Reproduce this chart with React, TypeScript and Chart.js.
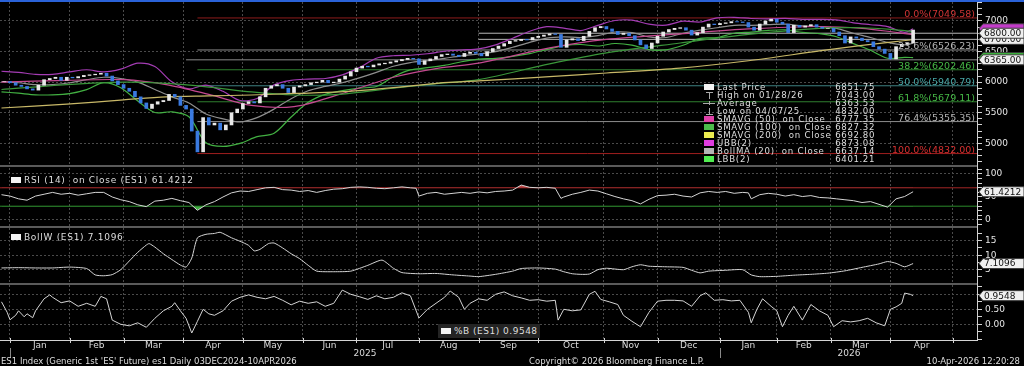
import React, { useEffect, useRef } from 'react';
import { Chart, registerables } from 'chart.js';

Chart.register(...registerables);

// ---------------- axis / calendar (trading-day index, 0 = first session of Jan 2025) ----------------
const X_MIN = -3.52;
const X_MAX = 340.85;
const monthStarts = [0, 21, 40, 61, 82, 103, 122, 144, 165, 186, 209, 228, 250, 270, 289, 310, 332];
const monthLabels = ['Jan', 'Feb', 'Mar', 'Apr', 'May', 'Jun', 'Jul', 'Aug', 'Sep', 'Oct', 'Nov', 'Dec', 'Jan', 'Feb', 'Mar', 'Apr'];
const yearStarts = [0, 250];
const yearLabels = ['2025', '2026'];

// ---------------- price (close every 2 sessions) ----------------
const priceFirstDay = -2;
const priceDayStep = 2;
const closes = [
  6010, 5990, 5950, 5930, 5890, 5870, 5950, 6040, 6060, 6080,
  6030, 6080, 6070, 6090, 6110, 6120, 6130, 6145, 6100, 6020,
  5960, 5900, 5850, 5760, 5660, 5570, 5640, 5680, 5700, 5800,
  5760, 5620, 5560, 5200, 4860, 5420, 5300, 5330, 5220, 5300,
  5500, 5560, 5650, 5680, 5660, 5760, 5900, 5940, 5960, 5900,
  5830, 5920, 5940, 5960, 5990, 6000, 6030, 5990, 6000, 6050,
  6100, 6170, 6230, 6260, 6250, 6280, 6300, 6310, 6330, 6350,
  6370, 6390, 6380, 6290, 6350, 6380, 6420, 6450, 6460, 6440,
  6420, 6470, 6490, 6470, 6430, 6500, 6550, 6590, 6630, 6670,
  6680, 6700, 6690, 6730, 6750, 6770, 6790, 6780, 6570, 6690,
  6710, 6680, 6750, 6830, 6890, 6910, 6870, 6830, 6780, 6800,
  6760, 6690, 6610, 6550, 6640, 6750, 6820, 6860, 6880, 6890,
  6850, 6770, 6810, 6900, 6950, 6940, 6960, 6970, 6990, 6985,
  6975, 6900, 6850, 6950, 7000, 7030, 6980, 6950, 6810, 6930,
  6900, 6920, 6940, 6900, 6880, 6880, 6820, 6760, 6640, 6740,
  6720, 6680, 6660, 6580, 6540, 6470, 6380, 6580, 6620, 6640,
  6852,
];

// ---------------- Bollinger (20, 2) ----------------
const bbDays = [-3, 3, 9, 15, 21, 27, 33, 39, 45, 51, 57, 63, 69, 75, 81, 87, 93, 99, 105, 111, 117, 123, 129, 135, 141, 147, 153, 159, 165, 171, 177, 183, 189, 195, 201, 207, 213, 219, 225, 231, 237, 243, 249, 255, 261, 267, 273, 279, 285, 291, 297, 303, 309, 315, 318];
const bollMA = [6010, 5990, 5960, 5960, 5990, 6040, 6080, 6060, 6000, 5880, 5760, 5660, 5480, 5400, 5350, 5420, 5560, 5730, 5860, 5930, 5990, 6070, 6160, 6260, 6320, 6350, 6390, 6430, 6460, 6500, 6570, 6650, 6720, 6740, 6730, 6760, 6820, 6810, 6740, 6730, 6800, 6850, 6890, 6930, 6930, 6940, 6950, 6920, 6910, 6880, 6800, 6730, 6650, 6610, 6637];
const ubb = [6178, 6161, 6127, 6127, 6167, 6203, 6168, 6212, 6310, 6256, 6005, 5890, 5951, 5850, 5700, 5732, 5955, 6030, 6050, 6060, 6119, 6237, 6391, 6432, 6440, 6464, 6505, 6526, 6544, 6610, 6718, 6833, 6908, 6885, 6844, 6929, 7008, 7014, 6949, 6932, 6997, 6984, 7052, 7060, 7041, 7034, 7044, 7027, 7027, 7018, 6970, 6939, 6909, 6815, 6873];
const lbb = [5842, 5819, 5793, 5793, 5813, 5877, 5992, 5908, 5690, 5504, 5515, 5434, 5009, 4950, 5000, 5108, 5165, 5430, 5670, 5800, 5861, 5903, 5929, 6088, 6200, 6236, 6275, 6334, 6376, 6390, 6422, 6467, 6532, 6595, 6616, 6591, 6632, 6606, 6531, 6528, 6603, 6716, 6728, 6800, 6819, 6846, 6856, 6813, 6793, 6742, 6630, 6521, 6391, 6405, 6401];

// ---------------- moving averages ----------------
const smaDays = [-3, 20, 40, 55, 70, 85, 100, 116, 135, 151, 165, 190, 210, 236, 260, 285, 300, 311, 318];
const sma50 = [6000, 6030, 6040, 5960, 5800, 5620, 5600, 5800, 6080, 6230, 6310, 6560, 6700, 6790, 6870, 6910, 6880, 6820, 6777];
const sma100 = [5880, 5960, 6000, 5980, 5920, 5840, 5790, 5800, 5900, 5980, 6040, 6300, 6480, 6640, 6780, 6880, 6890, 6860, 6827];
const sma200 = [5577, 5640, 5710, 5760, 5775, 5790, 5815, 5840, 5910, 5985, 6020, 6090, 6150, 6230, 6350, 6510, 6600, 6660, 6693];

// ---------------- Fibonacci retracement & drawn levels ----------------
const fibStartDay = 66;
const fibPercents = ['0.0%', '23.6%', '38.2%', '50.0%', '61.8%', '76.4%', '100.0%'];
const fibLevels = [7049.58, 6526.23, 6202.46, 5940.79, 5679.11, 5355.35, 4832.0];
const fibLineColors = ['#8e1c1c', '#8c8c8c', '#2f7f2f', '#3d8080', '#2f7f2f', '#8c8c8c', '#a01e1e'];
const fibTextColors = ['#d03434', '#b4b4b4', '#46b846', '#47a6a6', '#46b846', '#b4b4b4', '#d83030'];
const levelStartDays = [165, 165, 62];
const levelValues = [6800, 6700, 6365];

// ---------------- right-hand value tags ----------------
const mainTagValues = [6873.08, 6401.21, 6365, 6700, 6800];
const mainTagTexts = ['', '', '6365.00', '6700.00', '6800.00'];
const mainTagFills = ['#c23cc8', '#3cc23c', '#f0f0f0', '#f0f0f0', '#f0f0f0'];

// ---------------- legend ----------------
const legendNames = ['Last Price', 'High on 01/28/26', 'Average', 'Low on 04/07/25', 'SMAVG (50)  on Close', 'SMAVG (100)  on Close', 'SMAVG (200)  on Close', 'UBB(2)', 'BollMA (20)  on Close', 'LBB(2)'];
const legendValues = ['6851.75', '7043.00', '6363.53', '4832.00', '6777.35', '6827.32', '6692.80', '6873.08', '6637.14', '6401.21'];
const legendIcons = ['box', 'high', 'avg', 'low', 'box', 'box', 'box', 'box', 'box', 'box'];
const legendColors = ['#f4f4f4', '#aaaaaa', '#aaaaaa', '#aaaaaa', '#e040a8', '#4cbc4c', '#ecec50', '#e03ce0', '#b4b4b4', '#50ec50'];

// ---------------- RSI (14) ----------------
const rsiDays = [-3, 0, 3, 6, 9, 12, 15, 18, 21, 24, 27, 30, 33, 36, 39, 42, 45, 48, 51, 54, 57, 60, 63, 66, 69, 72, 75, 78, 81, 84, 87, 90, 93, 96, 99, 102, 105, 108, 111, 114, 117, 120, 123, 126, 129, 132, 135, 138, 141, 143, 144, 147, 150, 153, 156, 159, 162, 165, 168, 171, 174, 177, 180, 183, 186, 189, 192, 194, 195, 198, 201, 204, 207, 210, 213, 216, 219, 222, 225, 228, 231, 234, 237, 240, 243, 246, 249, 252, 255, 258, 260, 261, 264, 267, 270, 273, 276, 279, 282, 285, 288, 291, 294, 297, 300, 303, 306, 309, 312, 315, 318];
const rsiValues = [55, 52, 46, 43, 52, 56, 60, 56, 58, 54, 57, 60, 60, 50, 44, 40, 33, 29, 41, 43, 47, 42, 38, 21, 33, 40, 50, 59, 63, 62, 66, 70, 71, 66, 65, 62, 64, 60, 64, 67, 68, 71, 72, 71, 69, 68, 70, 72, 70, 69, 52, 58, 60, 56, 58, 60, 58, 61, 59, 62, 63, 65, 76, 71, 70, 71, 69, 47, 50, 56, 60, 65, 63, 57, 51, 46, 42, 35, 45, 53, 54, 56, 52, 50, 59, 62, 60, 62, 58, 60, 59, 46, 55, 58, 56, 52, 55, 51, 53, 49, 48, 46, 44, 42, 38, 40, 34, 28, 46, 51, 61.4212];
const rsiUpper = 70;
const rsiLower = 30;

// ---------------- Bollinger band width ----------------
const bwDays = [-3, 3, 9, 15, 21, 27, 30, 33, 36, 39, 42, 45, 48, 49, 51, 54, 57, 60, 62, 64, 66, 69, 72, 74, 78, 81, 84, 86, 88, 91, 93, 96, 99, 102, 105, 108, 114, 120, 126, 131, 135, 138, 144, 150, 156, 162, 165, 171, 177, 180, 186, 192, 195, 198, 201, 204, 207, 210, 216, 219, 222, 225, 231, 237, 240, 243, 246, 252, 258, 261, 264, 270, 276, 282, 288, 294, 300, 306, 309, 312, 315, 318];
const bwValues = [5.6, 5.7, 5.6, 5.6, 5.9, 5.4, 3.2, 2.9, 3.3, 5.0, 8.0, 11.0, 13.5, 14.0, 12.8, 10.5, 8.5, 6.6, 5.9, 9.0, 16.0, 17.2, 17.5, 17.9, 16.0, 14.8, 13.4, 11.5, 12.0, 14.0, 14.2, 12.5, 10.5, 8.8, 6.5, 4.5, 4.3, 4.5, 6.5, 8.3, 5.5, 4.0, 3.6, 3.7, 3.2, 2.8, 2.6, 3.4, 4.5, 5.4, 5.6, 5.2, 4.3, 3.6, 3.4, 3.5, 5.0, 5.5, 5.0, 6.0, 6.7, 6.2, 6.0, 5.8, 4.8, 3.9, 4.5, 4.8, 5.0, 3.2, 2.6, 2.7, 3.1, 3.4, 3.8, 4.6, 5.8, 7.0, 7.8, 7.2, 6.0, 7.1096];

// ---------------- %B ----------------
const pbDays = [-3, -1, 0, 2, 3, 5, 6, 8, 9, 12, 14, 15, 18, 21, 24, 27, 30, 32, 34, 36, 39, 42, 45, 48, 51, 54, 57, 58, 60, 62, 64, 66, 68, 70, 72, 75, 78, 81, 84, 87, 90, 93, 96, 99, 102, 105, 108, 111, 114, 117, 120, 123, 126, 129, 132, 135, 138, 141, 144, 147, 150, 153, 155, 158, 160, 162, 165, 168, 171, 174, 177, 180, 183, 186, 189, 192, 193, 195, 198, 201, 204, 206, 208, 211, 214, 216, 219, 222, 225, 228, 231, 234, 237, 240, 243, 245, 248, 251, 254, 257, 260, 261, 263, 265, 268, 270, 272, 274, 276, 279, 282, 285, 288, 290, 293, 296, 299, 302, 305, 308, 310, 312, 314, 315, 317, 318];
const pbValues = [0.75, 0.4, 0.15, 0.3, 0.45, 0.25, 0.35, 0.22, 0.45, 0.85, 0.98, 0.9, 0.72, 0.78, 0.6, 0.7, 0.6, 0.93, 0.85, 0.14, 0.0, -0.05, 0.05, -0.1, 0.2, 0.45, 0.6, 0.72, 0.45, 0.2, -0.29, 0.1, 0.5, 0.35, 0.3, 0.45, 0.77, 0.9, 0.98, 0.9, 0.85, 0.93, 0.8, 0.65, 0.77, 0.7, 0.75, 0.6, 0.7, 1.14, 1.0, 0.92, 0.83, 0.95, 0.85, 0.9, 1.05, 0.95, 0.21, 0.5, 0.7, 0.9, 1.11, 0.9, 0.5, 0.7, 0.85, 0.8, 1.0, 1.08, 0.95, 0.88, 0.8, 0.82, 0.77, 0.8, 0.14, 0.5, 0.45, 0.48, 1.0, 1.1, 0.83, 0.75, 0.66, 0.3, 0.1, -0.08, 0.4, 0.77, 0.8, 0.8, 0.78, 0.6, 0.95, 1.05, 0.8, 0.82, 0.78, 0.8, 0.4, 0.05, 0.5, 0.85, 0.6, 0.45, -0.08, 0.3, 0.6, 0.14, 0.66, 0.45, 0.3, -0.08, 0.12, 0.08, 0.12, 0.2, 0.05, -0.05, 0.5, 0.58, 0.7, 1.04, 1.0, 0.9548];

// ---------------- footer ----------------
const footerLeft = "ES1 Index (Generic 1st 'ES' Future) es1 Daily 03DEC2024-10APR2026";
const footerMid = 'Copyright\u00A9 2026 Bloomberg Finance L.P.';
const footerRight = '10-Apr-2026 12:20:28';

// =====================================================================
const FONT = '"DejaVu Sans", sans-serif';
const near = (a: number, b: number) => Math.abs(a - b) < 1e-6;

function makeXScale(axisHeight: number) {
  return {
    type: 'linear',
    min: X_MIN,
    max: X_MAX,
    offset: false,
    afterBuildTicks: (s: any) => {
      s.ticks = monthStarts.map((v) => ({ value: v }));
    },
    afterFit: (s: any) => {
      s.height = axisHeight;
      s.paddingLeft = 0;
      s.paddingRight = 0;
      s.paddingTop = 0;
      s.paddingBottom = 0;
    },
    ticks: { display: false },
    grid: { color: '#4a4a4a', drawTicks: false, lineWidth: 1, offset: false },
    border: { display: false, dash: [2, 2] },
  };
}

function makeYScale(min: number, max: number, step: number, labelled: number[], gridAt: number[], fmt: (v: number) => string) {
  const tickVals: number[] = [];
  for (let v = Math.ceil(min / step) * step; v <= max + 1e-9; v += step) tickVals.push(Math.round(v * 10000) / 10000);
  return {
    type: 'linear',
    position: 'right',
    min,
    max,
    afterBuildTicks: (s: any) => {
      s.ticks = tickVals.map((v) => ({ value: v }));
    },
    afterFit: (s: any) => {
      s.width = 46;
      s.paddingTop = 0;
      s.paddingBottom = 0;
      s.paddingLeft = 0;
      s.paddingRight = 0;
    },
    ticks: {
      color: '#e6e6e6',
      padding: 3,
      autoSkip: false,
      maxRotation: 0,
      font: { family: FONT, size: 9 },
      callback: (v: any) => (labelled.some((l) => near(l, v)) ? fmt(v) : ''),
    },
    grid: {
      color: (c: any) => (c.tick && gridAt.some((g) => near(g, c.tick.value)) ? '#4a4a4a' : 'rgba(0,0,0,0)'),
      tickColor: '#d4d4d4',
      tickLength: 4,
      lineWidth: 1,
      tickBorderDash: [],
    },
    border: { display: false, dash: [2, 2] },
  };
}

function baseOptions(y: any, axisHeight: number) {
  return {
    responsive: false,
    maintainAspectRatio: false,
    animation: false,
    events: [],
    layout: { padding: 0, autoPadding: false },
    plugins: { legend: { display: false }, tooltip: { enabled: false } },
    scales: { x: makeXScale(axisHeight), y },
  };
}

function series(days: number[], vals: number[]) {
  return days.map((d, i) => ({ x: d, y: vals[i] }));
}

function lineDs(days: number[], vals: number[], color: string, width: number, tension: number, order: number, extra: any = {}) {
  return {
    type: 'line',
    data: series(days, vals),
    borderColor: color,
    borderWidth: width,
    pointRadius: 0,
    tension,
    fill: false,
    order,
    ...extra,
  };
}

function hLine(from: number, value: number, color: string, order: number) {
  return {
    type: 'line',
    data: [
      { x: from, y: value },
      { x: X_MAX, y: value },
    ],
    borderColor: color,
    borderWidth: 1,
    pointRadius: 0,
    fill: false,
    order,
  };
}

function drawTag(ctx: CanvasRenderingContext2D, x0: number, y: number, text: string, fill: string) {
  const h = 5;
  ctx.beginPath();
  ctx.moveTo(x0, y);
  ctx.lineTo(x0 + 4, y - h);
  ctx.lineTo(1024, y - h);
  ctx.lineTo(1024, y + h);
  ctx.lineTo(x0 + 4, y + h);
  ctx.closePath();
  ctx.fillStyle = fill;
  ctx.fill();
  ctx.strokeStyle = '#3a3a3a';
  ctx.lineWidth = 1;
  ctx.stroke();
  if (text) {
    ctx.fillStyle = '#101010';
    ctx.font = '9px ' + FONT;
    ctx.textAlign = 'left';
    ctx.textBaseline = 'middle';
    ctx.fillText(text, x0 + 5, y + 0.5);
  }
}

function tagPlugin(values: number[], texts: string[], fills: string[]) {
  return {
    id: 'tags',
    afterDraw(chart: any) {
      const { ctx, chartArea, scales } = chart;
      ctx.save();
      values.forEach((v, i) => {
        drawTag(ctx, chartArea.right + 1, scales.y.getPixelForValue(v), texts[i], fills[i]);
      });
      ctx.restore();
    },
  };
}

const fibLabelPlugin = {
  id: 'fibLabels',
  afterDatasetsDraw(chart: any) {
    const { ctx, chartArea, scales } = chart;
    ctx.save();
    ctx.font = '9.5px ' + FONT;
    ctx.textAlign = 'right';
    ctx.textBaseline = 'middle';
    fibLevels.forEach((lv, i) => {
      const y = scales.y.getPixelForValue(lv);
      ctx.fillStyle = fibTextColors[i];
      ctx.fillText(fibPercents[i] + '(' + lv.toFixed(2) + ')', chartArea.right - 3, y - 3.5);
    });
    ctx.restore();
  },
};

const bottomAxisPlugin = {
  id: 'bottomAxis',
  afterDraw(chart: any) {
    const { ctx, chartArea, scales } = chart;
    const sx = scales.x;
    const b = chartArea.bottom;
    ctx.save();
    ctx.strokeStyle = '#d4d4d4';
    ctx.lineWidth = 1;
    ctx.beginPath();
    ctx.moveTo(chartArea.left, b + 0.5);
    ctx.lineTo(chartArea.right, b + 0.5);
    monthStarts.forEach((d) => {
      const px = Math.round(sx.getPixelForValue(d)) + 0.5;
      if (px < chartArea.right) {
        ctx.moveTo(px, b - 2);
        ctx.lineTo(px, b + 3);
      }
    });
    ctx.stroke();
    ctx.strokeStyle = '#8a8a8a';
    ctx.beginPath();
    yearStarts.forEach((d) => {
      const px = Math.round(sx.getPixelForValue(d)) + 0.5;
      ctx.moveTo(px, b + 8);
      ctx.lineTo(px, b + 18);
    });
    ctx.stroke();
    ctx.fillStyle = '#dcdcdc';
    ctx.font = '9px ' + FONT;
    ctx.textAlign = 'center';
    ctx.textBaseline = 'middle';
    monthLabels.forEach((m, i) => {
      const mid = (monthStarts[i] + monthStarts[i + 1]) / 2;
      ctx.fillText(m, sx.getPixelForValue(mid), b + 5.5);
    });
    yearLabels.forEach((yl, i) => {
      const end = i + 1 < yearStarts.length ? yearStarts[i + 1] : X_MAX;
      ctx.fillText(yl, sx.getPixelForValue((yearStarts[i] + end) / 2), b + 13.5);
    });
    ctx.restore();
  },
};

export default function App() {
  const mainRef = useRef<HTMLCanvasElement>(null);
  const rsiRef = useRef<HTMLCanvasElement>(null);
  const bwRef = useRef<HTMLCanvasElement>(null);
  const pbRef = useRef<HTMLCanvasElement>(null);

  useEffect(() => {
    const charts: any[] = [];

    // ---------- main price panel ----------
    const candleData = closes.map((c, k) => ({ x: priceFirstDay + k * priceDayStep, y: [k ? closes[k - 1] : c, c] }));
    const candleColors = closes.map((c, k) => (k && c < closes[k - 1] ? '#3a7ae0' : '#e8e8e8'));
    const mainDatasets: any[] = [];
    fibLevels.forEach((lv, i) => mainDatasets.push(hLine(fibStartDay, lv, fibLineColors[i], 3)));
    levelValues.forEach((lv, i) => mainDatasets.push(hLine(levelStartDays[i], lv, i < 2 ? '#b8b8b8' : '#8c8c8c', 3)));
    mainDatasets.push(lineDs(smaDays, sma200, '#c8b868', 1.2, 0.3, 2));
    mainDatasets.push(lineDs(smaDays, sma100, '#3a963a', 1.2, 0.3, 2));
    mainDatasets.push(lineDs(smaDays, sma50, '#c44890', 1.2, 0.3, 2));
    mainDatasets.push(lineDs(bbDays, bollMA, '#8e8e8e', 1.2, 0.3, 2));
    mainDatasets.push(lineDs(bbDays, ubb, '#a43cb4', 1.2, 0.3, 2));
    mainDatasets.push(lineDs(bbDays, lbb, '#42b042', 1.2, 0.3, 2));
    mainDatasets.push({
      type: 'bar',
      data: candleData,
      backgroundColor: candleColors,
      borderWidth: 0,
      barThickness: 3,
      grouped: false,
      order: 0,
    });
    charts.push(
      new Chart(mainRef.current as any, {
        type: 'line',
        data: { datasets: mainDatasets },
        options: baseOptions(makeYScale(4645.1, 7310.7, 100, [5000, 5500, 6000, 6500, 7000], [5000, 5500, 6000, 6500, 7000], (v) => String(v)), 0) as any,
        plugins: [fibLabelPlugin, tagPlugin(mainTagValues, mainTagTexts, mainTagFills)],
      } as any)
    );

    // ---------- RSI ----------
    const rsiLast = rsiValues[rsiValues.length - 1];
    charts.push(
      new Chart(rsiRef.current as any, {
        type: 'line',
        data: {
          datasets: [
            hLine(X_MIN, rsiUpper, '#a42626', 3),
            hLine(X_MIN, rsiLower, '#2a8a2a', 3),
            lineDs(rsiDays, rsiValues, 'rgba(0,0,0,0)', 0, 0, 2, {
              fill: { target: { value: rsiLower }, above: 'rgba(0,0,0,0)', below: 'rgba(70,190,70,0.9)' },
            }),
            lineDs(rsiDays, rsiValues, '#d4d4d4', 1, 0, 1, {
              fill: { target: { value: rsiUpper }, above: 'rgba(210,80,80,0.9)', below: 'rgba(0,0,0,0)' },
            }),
          ],
        },
        options: baseOptions(makeYScale(-13.05, 113.04, 10, [0, 50, 100], [0, 100], (v) => String(v)), 0) as any,
        plugins: [tagPlugin([rsiLast], [rsiLast.toFixed(4)], ['#f0f0f0'])],
      } as any)
    );

    // ---------- BollW ----------
    const bwLast = bwValues[bwValues.length - 1];
    charts.push(
      new Chart(bwRef.current as any, {
        type: 'line',
        data: { datasets: [lineDs(bwDays, bwValues, '#d4d4d4', 1, 0.2, 1)] },
        options: baseOptions(makeYScale(0.41, 19.38, 2.5, [5, 10, 15], [5, 10, 15], (v) => String(v)), 0) as any,
        plugins: [tagPlugin([bwLast], [bwLast.toFixed(4)], ['#f0f0f0'])],
      } as any)
    );

    // ---------- %B ----------
    const pbLast = pbValues[pbValues.length - 1];
    charts.push(
      new Chart(pbRef.current as any, {
        type: 'line',
        data: { datasets: [lineDs(pbDays, pbValues, '#d4d4d4', 1, 0, 1)] },
        options: baseOptions(makeYScale(-0.523, 1.31, 0.25, [0, 0.5], [0, 0.5, 1], (v) => Number(v).toFixed(2)), 26) as any,
        plugins: [bottomAxisPlugin, tagPlugin([pbLast], [pbLast.toFixed(4)], ['#f0f0f0'])],
      } as any)
    );

    return () => charts.forEach((c) => c.destroy());
  }, []);

  const abs = (l: number, t: number, w: number, h: number, bg: string): React.CSSProperties => ({
    position: 'absolute',
    left: l,
    top: t,
    width: w,
    height: h,
    background: bg,
  });
  const txt: React.CSSProperties = {
    position: 'absolute',
    fontFamily: FONT,
    color: '#dedede',
    whiteSpace: 'pre',
  };

  const legendTop = 83.3;
  const rowH = 8;

  return (
    <div style={{ position: 'fixed', left: 0, top: 0, width: 1024, height: 366, background: '#000', overflow: 'hidden' }}>
      <div style={abs(0, 0, 1024, 2, '#2a62d8')} />
      <canvas ref={mainRef} width={1024} height={163} style={{ position: 'absolute', left: 0, top: 2 }} />
      <canvas ref={rsiRef} width={1024} height={58} style={{ position: 'absolute', left: 0, top: 168 }} />
      <canvas ref={bwRef} width={1024} height={55} style={{ position: 'absolute', left: 0, top: 228 }} />
      <canvas ref={pbRef} width={1024} height={81} style={{ position: 'absolute', left: 0, top: 285 }} />

      {/* panel separators & right axis line */}
      <div style={abs(0, 165, 978, 2, '#5a5a5a')} />
      <div style={abs(0, 226, 978, 2, '#5a5a5a')} />
      <div style={abs(0, 283, 978, 2, '#5a5a5a')} />
      <div style={abs(977, 2, 1, 339, '#d0d0d0')} />

      {/* main legend */}
      {legendNames.map((name, i) => {
        const cy = legendTop + 4 + i * rowH;
        const col = legendColors[i];
        let icon: any = null;
        if (legendIcons[i] === 'box') icon = <div style={abs(704, cy - 3, 10, 6, col)} />;
        else if (legendIcons[i] === 'high')
          icon = (
            <>
              <div style={abs(706, cy - 3, 7, 1, col)} />
              <div style={abs(709, cy - 3, 1, 7, col)} />
            </>
          );
        else if (legendIcons[i] === 'avg')
          icon = (
            <>
              <div style={abs(703, cy, 12, 1, col)} />
              <div style={abs(709, cy - 2, 1, 4, col)} />
            </>
          );
        else
          icon = (
            <>
              <div style={abs(709, cy - 3, 1, 7, col)} />
              <div style={abs(706, cy + 3, 7, 1, col)} />
            </>
          );
        return (
          <React.Fragment key={name}>
            {icon}
            <div style={{ ...txt, left: 717, top: cy - 6, lineHeight: '12px', fontSize: 8.6, letterSpacing: 0.75 }}>{name}</div>
            <div style={{ ...txt, left: 815, width: 60, textAlign: 'right', top: cy - 6, lineHeight: '12px', fontSize: 8.6, letterSpacing: 0.6 }}>
              {legendValues[i]}
            </div>
          </React.Fragment>
        );
      })}

      {/* panel legends */}
      <div style={abs(11, 177, 10, 6, '#f4f4f4')} />
      <div style={{ ...txt, left: 24, top: 174, lineHeight: '12px', fontSize: 9, letterSpacing: 0.7 }}>
        {'RSI (14)  on Close (ES1) ' + rsiValues[rsiValues.length - 1].toFixed(4)}
      </div>
      <div style={abs(11, 234, 10, 6, '#f4f4f4')} />
      <div style={{ ...txt, left: 24, top: 231, lineHeight: '12px', fontSize: 9, letterSpacing: 0.7 }}>
        {'BollW (ES1) ' + bwValues[bwValues.length - 1].toFixed(4)}
      </div>
      <div style={abs(438, 324, 102, 14, '#242424')} />
      <div style={abs(441, 328, 10, 6, '#f4f4f4')} />
      <div style={{ ...txt, left: 454, top: 325, lineHeight: '12px', fontSize: 9, letterSpacing: 0.5 }}>
        {'%B (ES1) ' + pbValues[pbValues.length - 1].toFixed(4)}
      </div>

      {/* footer */}
      <div style={{ ...txt, left: 1, top: 356, lineHeight: '11px', fontSize: 8.5 }}>{footerLeft}</div>
      <div style={{ ...txt, left: 529, top: 356, lineHeight: '11px', fontSize: 8.5 }}>{footerMid}</div>
      <div style={{ ...txt, right: 4, top: 356, lineHeight: '11px', fontSize: 8.5 }}>{footerRight}</div>
    </div>
  );
}
